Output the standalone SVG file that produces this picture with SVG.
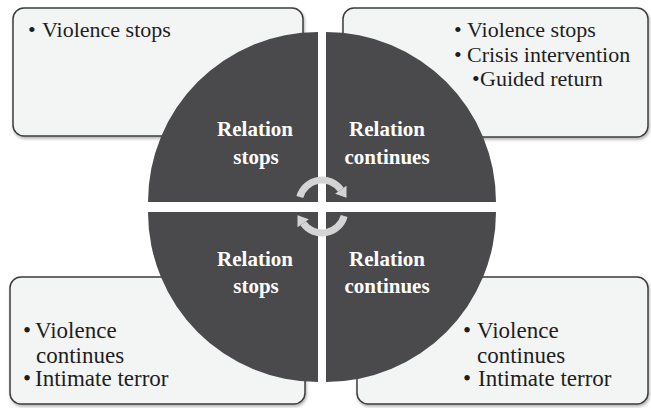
<svg xmlns="http://www.w3.org/2000/svg" width="651" height="408" viewBox="0 0 651 408">
<defs>
<filter id="sh" x="-5%" y="-5%" width="110%" height="115%">
<feDropShadow dx="1" dy="2" stdDeviation="1.5" flood-color="#000" flood-opacity="0.3"/>
</filter>
</defs>
<style>
.box{fill:#f3f4f4;stroke:#3e3e3e;stroke-width:1.5;filter:url(#sh)}
.q{fill:#4a4a4c}
.t{font-family:"Liberation Serif",serif;font-size:22px;fill:#1e1e1e}
.b{font-family:"Liberation Serif",serif;font-size:23px;fill:#1e1e1e}
.w{font-family:"Liberation Serif",serif;font-size:21px;font-weight:bold;fill:#ffffff;text-anchor:middle}
.arc{fill:none;stroke:#d4d4d4;stroke-width:7}
.ah{fill:#d4d4d4}
</style>
<g id="box-tl"><rect class="box" x="13" y="8" width="290" height="128" rx="11"/>
<text class="t" x="28" y="37">•</text><text class="t" x="42" y="37">Violence stops</text></g>
<g id="box-tr"><rect class="box" x="343" y="8" width="305" height="129" rx="11"/>
<text class="t" x="454" y="37">•</text><text class="t" x="467" y="37">Violence stops</text>
<text class="t" x="454" y="62">•</text><text class="t" x="467" y="62">Crisis intervention</text>
<text class="t" x="472" y="86">•</text><text class="t" x="480" y="86">Guided return</text></g>
<g id="box-bl"><rect class="box" x="10" y="277" width="295" height="127" rx="11"/>
<text class="b" x="23" y="338">•</text><text class="b" x="35" y="338">Violence</text>
<text class="b" x="36" y="363">continues</text>
<text class="b" x="23" y="386">•</text><text class="b" x="35" y="386">Intimate terror</text></g>
<g id="box-br"><rect class="box" x="357" y="277" width="291" height="127" rx="11"/>
<text class="b" x="463" y="338">•</text><text class="b" x="477" y="338">Violence</text>
<text class="b" x="477" y="363">continues</text>
<text class="b" x="463" y="386">•</text><text class="b" x="478" y="386">Intimate terror</text></g>
<g id="q-tl"><path class="q" d="M318,202 L148,202 A170,170 0 0 1 318,32 Z"/>
<text class="w" x="255" y="136">Relation</text><text class="w" x="256" y="164">stops</text></g>
<g id="q-tr"><path class="q" d="M326,202 L326,32 A170,170 0 0 1 496,202 Z"/>
<text class="w" x="387" y="136">Relation</text><text class="w" x="387" y="164">continues</text></g>
<g id="q-bl"><path class="q" d="M318,212 L318,382 A170,170 0 0 1 148,212 Z"/>
<text class="w" x="255" y="266">Relation</text><text class="w" x="256" y="293">stops</text></g>
<g id="q-br"><path class="q" d="M326,212 L496,212 A170,170 0 0 1 326,382 Z"/>
<text class="w" x="387" y="266">Relation</text><text class="w" x="387" y="293">continues</text></g>
<g id="connectors">
<path class="arc" d="M299.8,197 A23,23 0 0 1 340.8,189.8"/>
<polygon class="ah" points="346.5,185.8 335.1,193.8 346.5,197.8"/>
<path class="arc" d="M344.2,216 A23,23 0 0 1 303.2,223.2"/>
<polygon class="ah" points="297.5,227.2 308.9,219.2 297.5,215.2"/>
</g>
</svg>
